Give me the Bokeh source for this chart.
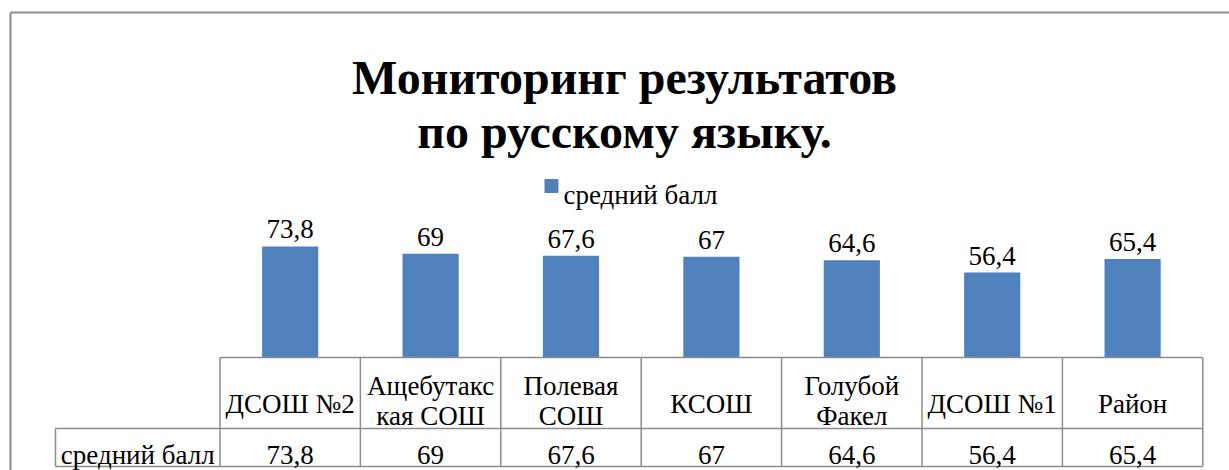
from bokeh.plotting import figure
from bokeh.models import Range1d
from bokeh.core.properties import value
from bokeh.embed import file_html
from bokeh.resources import INLINE

# ---- data ----
categories = ["ДСОШ №2", "Ащебутакская СОШ", "Полевая СОШ", "КСОШ",
              "Голубой Факел", "ДСОШ №1", "Район"]
header_lines = [["ДСОШ №2"], ["Ащебутакс", "кая СОШ"], ["Полевая", "СОШ"],
                ["КСОШ"], ["Голубой", "Факел"], ["ДСОШ №1"], ["Район"]]
values = [73.8, 69, 67.6, 67, 64.6, 56.4, 65.4]
series_name = "средний балл"
title_lines = ["Мониторинг результатов", "по русскому языку."]

def fmt(v):
    return f"{v:g}".replace(".", ",")

labels = [fmt(v) for v in values]
idx = list(range(len(categories)))

# ---- layout (image pixels) ----
W_PAGE, H_PAGE = 1229, 470
L, CW = 219.5, 140.4          # table first column edge, column width
BASE, SCALE = 357, 1.505      # bar baseline y, px per unit
T_TOP, T_MID, T_BOT = 357, 428, 466
HDR_L = 55
FONT = value("Liberation Serif")
FS = "27px"
GRAY = "#8c8c8c"
BLUE = "#4F81BD"

p = figure(width=W_PAGE, height=H_PAGE, output_backend="svg",
           toolbar_location=None, min_border=0,
           x_range=Range1d(0, W_PAGE), y_range=Range1d(H_PAGE, 0))
p.axis.visible = False
p.grid.visible = False
p.outline_line_color = None
p.background_fill_color = "white"
p.border_fill_color = "white"

n = len(categories)
p.extra_x_ranges = {"idx": Range1d((0 - L) / CW - 0.5, (W_PAGE - L) / CW - 0.5)}
p.extra_y_ranges = {"val": Range1d((BASE - H_PAGE) / SCALE, (BASE - 0) / SCALE)}

# chart border (left + top)
p.segment(x0=[10, 10], y0=[12, 12], x1=[10, W_PAGE], y1=[H_PAGE, 12],
          line_color=GRAY, line_width=2)

# title
p.text(x=[624, 624], y=[77, 131], text=title_lines, text_font=FONT,
       text_font_size="48px", text_font_style="bold", text_align="center",
       text_baseline="alphabetic", text_color="black")

# legend
p.rect(x=[551], y=[185.5], width=14, height=14, fill_color=BLUE, line_color=None)
p.text(x=[563], y=[194], text=[series_name], text_font=FONT, text_font_size=FS,
       text_align="left", text_baseline="alphabetic", text_color="black")

# bars
p.vbar(x=idx, top=values, bottom=0, width=0.4, fill_color=BLUE, line_color=None,
       x_range_name="idx", y_range_name="val")
p.text(x=idx, y=values, text=labels, y_offset=-17, text_font=FONT,
       text_font_size=FS, text_align="center", text_baseline="alphabetic",
       text_color="black", x_range_name="idx", y_range_name="val")

# table grid
xs = [L + CW * k for k in range(n + 1)]
x0 = [L, L, HDR_L, HDR_L]
x1 = [xs[-1], xs[-1], xs[-1], L]
y0 = [T_TOP, T_MID, T_BOT, T_MID]
y1 = [T_TOP, T_MID, T_BOT, T_MID]
for k, xv in enumerate(xs):
    x0.append(xv); x1.append(xv); y0.append(T_TOP); y1.append(T_BOT)
x0.append(HDR_L); x1.append(HDR_L); y0.append(T_MID); y1.append(T_BOT)
p.segment(x0=x0, y0=y0, x1=x1, y1=y1, line_color=GRAY, line_width=1.5)

# header text
hx, hy, ht = [], [], []
for i, lines in enumerate(header_lines):
    if len(lines) == 1:
        hx.append(i); hy.append(403); ht.append(lines[0])
    else:
        for j, s in enumerate(lines):
            hx.append(i); hy.append(385 + 30 * j); ht.append(s)
p.text(x=hx, y=hy, text=ht, text_font=FONT, text_font_size=FS,
       text_align="center", text_baseline="alphabetic", text_color="black",
       x_range_name="idx")

# value row
p.text(x=idx, y=[454] * n, text=labels, text_font=FONT, text_font_size=FS,
       text_align="center", text_baseline="alphabetic", text_color="black",
       x_range_name="idx")
p.text(x=[(HDR_L + L) / 2], y=[454], text=[series_name], text_font=FONT,
       text_font_size=FS, text_align="center", text_baseline="alphabetic",
       text_color="black")

open("out.html", "w").write(file_html(p, INLINE))
